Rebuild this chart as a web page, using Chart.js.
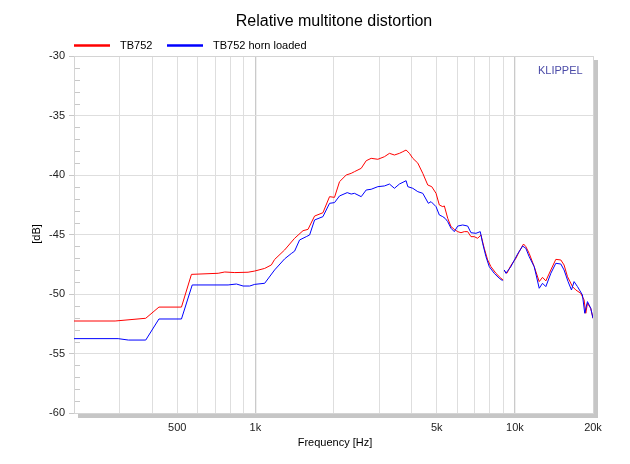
<!DOCTYPE html>
<html>
<head>
<meta charset="utf-8">
<script src="https://cdn.jsdelivr.net/npm/chart.js@4/dist/chart.umd.min.js"></script>
<style>
  html, body { margin: 0; padding: 0; background: #ffffff; }
  #wrap { width: 630px; height: 464px; position: relative; }
</style>
</head>
<body>
<div id="wrap"><canvas id="c" width="630" height="464"></canvas></div>
<script>
// ---- data ----
const chartTitle = 'Relative multitone distortion';
const seriesNames = ['TB752', 'TB752 horn loaded'];
const xTitle = 'Frequency [Hz]';
const yTitle = '[dB]';
const brand = 'KLIPPEL';

const redFreq = [200, 288, 378, 425, 519, 567, 719, 762, 833, 937, 994, 1086, 1152, 1186, 1296, 1416, 1526, 1595, 1691, 1821, 1931, 2018, 2110, 2239, 2340, 2409, 2557, 2673, 2794, 2964, 3144, 3286, 3434, 3589, 3700, 3809, 3923, 4043, 4226, 4416, 4616, 4782, 4968, 5115, 5272, 5348, 5511, 5674, 5842, 6021, 6199, 6383, 6578, 6773, 6974, 7186, 7400, 7619, 7852, 8085, 8451, 8835, 9016, 9050, 9096, 9316, 9652, 10090, 10390, 10800, 11020, 11350, 11870, 12410, 12780, 13160, 13760, 14380, 15030, 15470, 15950, 16670, 17170, 17940, 18480, 18760, 19040, 19600, 20000];
const redDb = [-52.27, -52.27, -52.04, -51.1, -51.1, -48.35, -48.26, -48.15, -48.2, -48.17, -48.07, -47.85, -47.56, -47.1, -46.3, -45.32, -44.68, -44.57, -43.45, -43.17, -41.82, -41.88, -40.56, -40.0, -39.86, -39.72, -39.44, -38.8, -38.6, -38.68, -38.46, -38.18, -38.32, -38.18, -38.04, -37.9, -38.18, -38.6, -39.0, -39.86, -40.84, -40.98, -41.54, -42.52, -42.66, -42.6, -43.64, -44.34, -44.57, -44.76, -44.85, -44.76, -44.76, -45.18, -45.18, -45.32, -45.04, -46.16, -47.14, -47.7, -48.26, -48.68, -48.82, null, -48.04, -48.26, -47.6, -47.0, -46.44, -45.8, -46.02, -46.58, -47.7, -48.96, -48.6, -48.9, -47.98, -47.09, -47.14, -47.56, -48.54, -49.38, -49.66, -49.94, -50.5, -51.62, -50.78, -51.2, -52.04];

const blueFreq = [200, 296, 324, 378, 425, 519, 571, 785, 845, 897, 951, 994, 1086, 1186, 1296, 1375, 1416, 1480, 1571, 1618, 1691, 1821, 1931, 2018, 2110, 2259, 2340, 2409, 2557, 2673, 2794, 2964, 3144, 3286, 3434, 3589, 3809, 3867, 4043, 4226, 4416, 4640, 4753, 4968, 5115, 5272, 5382, 5511, 5674, 5842, 6021, 6294, 6578, 6773, 7079, 7355, 7512, 7735, 7966, 8325, 8703, 8970, 9050, 9096, 9235, 9652, 10240, 10710, 11020, 11350, 11870, 12410, 12780, 13160, 13760, 14380, 15030, 15470, 16030, 16520, 16910, 17430, 18210, 18590, 19040, 19600, 20000];
const blueDb = [-53.75, -53.75, -53.87, -53.87, -52.1, -52.1, -49.24, -49.24, -49.16, -49.33, -49.33, -49.19, -49.1, -47.98, -47.05, -46.6, -46.4, -45.46, -45.18, -45.04, -43.78, -43.5, -42.38, -42.32, -41.76, -41.48, -41.6, -41.54, -41.82, -41.26, -41.2, -40.98, -40.92, -40.76, -41.12, -40.76, -40.48, -40.98, -41.12, -41.4, -41.54, -42.38, -42.24, -42.66, -43.36, -43.5, -43.64, -43.92, -44.48, -44.76, -44.29, -44.2, -44.29, -44.85, -44.9, -44.76, -45.74, -46.86, -47.7, -48.26, -48.68, -48.88, null, -47.98, -48.26, -47.7, -46.65, -45.97, -46.16, -46.86, -47.7, -49.52, -49.1, -49.38, -48.26, -47.42, -47.48, -47.98, -48.96, -49.66, -48.96, -49.38, -50.08, -51.62, -50.64, -51.2, -52.04];

const xGridValues = [200, 300, 400, 500, 600, 700, 800, 900, 1000, 2000, 3000, 4000, 5000, 6000, 7000, 8000, 9000, 10000, 20000];
const xLabelValues = [500, 1000, 5000, 10000, 20000];
const xLabelTexts = ['500', '1k', '5k', '10k', '20k'];
const yMin = -60, yMax = -30, yStep = 5;

// ---- chart ----
const FONT = "'Liberation Sans', Arial, sans-serif";
const RED = 'rgb(255,0,0)';
const BLUE = 'rgb(0,0,255)';

function pts(fs, vs) { return fs.map((f, i) => ({ x: f, y: vs[i] })); }

const deco = {
  id: 'deco',
  beforeDraw(chart) {
    const { ctx, chartArea: a } = chart;
    ctx.save();
    ctx.fillStyle = '#c6c6c6';
    ctx.fillRect(a.right + 1, a.top + 4, 4, a.bottom - a.top + 1);
    ctx.fillRect(a.left + 4, a.bottom + 1, a.right - a.left + 1, 4);
    ctx.restore();
  },
  afterDraw(chart) {
    const { ctx, chartArea: a, scales } = chart;
    ctx.save();
    // frame top/right
    ctx.strokeStyle = '#d4d4d4';
    ctx.lineWidth = 1;
    ctx.beginPath();
    ctx.moveTo(a.left, a.top + 0.5); ctx.lineTo(a.right + 0.5, a.top + 0.5);
    ctx.lineTo(a.right + 0.5, a.bottom);
    ctx.stroke();
    // minor y ticks
    ctx.strokeStyle = '#c8c8c8';
    for (let v = yMin + 1; v < yMax; v++) {
      if (v % yStep === 0) continue;
      const y = Math.round(scales.y.getPixelForValue(v)) + 0.5;
      ctx.beginPath(); ctx.moveTo(a.left + 1, y); ctx.lineTo(a.left + 6, y); ctx.stroke();
    }
    // title
    ctx.fillStyle = '#000';
    ctx.textAlign = 'center'; ctx.textBaseline = 'middle';
    ctx.font = '16px ' + FONT;
    ctx.fillText(chartTitle, 334, 22);
    // legend
    ctx.font = '11px ' + FONT;
    ctx.textAlign = 'left';
    const ds = chart.data.datasets;
    const legendX = [74, 167];
    [1, 0].forEach((di, k) => {
      const d = ds[di];
      const x0 = legendX[k];
      ctx.strokeStyle = d.borderColor; ctx.lineWidth = 2.5;
      ctx.beginPath(); ctx.moveTo(x0, 45.5); ctx.lineTo(x0 + 36, 45.5); ctx.stroke();
      ctx.fillStyle = '#000';
      ctx.fillText(d.label, x0 + 46, 45.5);
    });
    // axis titles
    ctx.fillStyle = '#000';
    ctx.textAlign = 'center';
    ctx.fillText(xTitle, 335, 443);
    ctx.save();
    ctx.translate(37, 234); ctx.rotate(-Math.PI / 2);
    ctx.fillText(yTitle, 0, 0);
    ctx.restore();
    // brand
    ctx.fillStyle = '#4b4ba8';
    ctx.textAlign = 'left';
    ctx.fillText(brand, 538, 71);
    ctx.restore();
  }
};

new Chart(document.getElementById('c'), {
  type: 'line',
  data: {
    datasets: [
      { label: seriesNames[1], data: pts(blueFreq, blueDb), borderColor: BLUE, borderWidth: 1, pointRadius: 0, tension: 0, spanGaps: false, order: 0 },
      { label: seriesNames[0], data: pts(redFreq, redDb), borderColor: RED, borderWidth: 1, pointRadius: 0, tension: 0, spanGaps: false, order: 1 }
    ]
  },
  options: {
    responsive: false,
    animation: false,
    devicePixelRatio: 1,
    layout: { padding: { left: 0, top: 56, right: 37, bottom: 0 } },
    plugins: { legend: { display: false }, title: { display: false }, tooltip: { enabled: false } },
    scales: {
      x: {
        type: 'logarithmic', min: 200, max: 20000,
        afterBuildTicks(s) { s.ticks = xGridValues.map(v => ({ value: v })); },
        afterFit(s) { s.height = 51; },
        ticks: {
          autoSkip: false, maxRotation: 0, padding: 8, color: '#222',
          font: { size: 11, family: FONT },
          callback(v) { const i = xLabelValues.indexOf(v); return i >= 0 ? xLabelTexts[i] : ''; }
        },
        grid: {
          drawTicks: false,
          color: c => (c.tick && (c.tick.value === 1000 || c.tick.value === 10000)) ? '#cacaca' : '#dedede',
          lineWidth: c => (c.tick && (c.tick.value === 1000 || c.tick.value === 10000)) ? 1.3 : 1
        },
        border: { color: '#d4d4d4' }
      },
      y: {
        type: 'linear', min: yMin, max: yMax,
        afterFit(s) { s.width = 74; },
        ticks: { stepSize: yStep, padding: 4, color: '#222', font: { size: 11, family: FONT } },
        grid: { color: '#dedede', tickLength: 5, tickColor: '#c8c8c8' },
        border: { color: '#d4d4d4' }
      }
    }
  },
  plugins: [deco]
});
</script>
</body>
</html>
